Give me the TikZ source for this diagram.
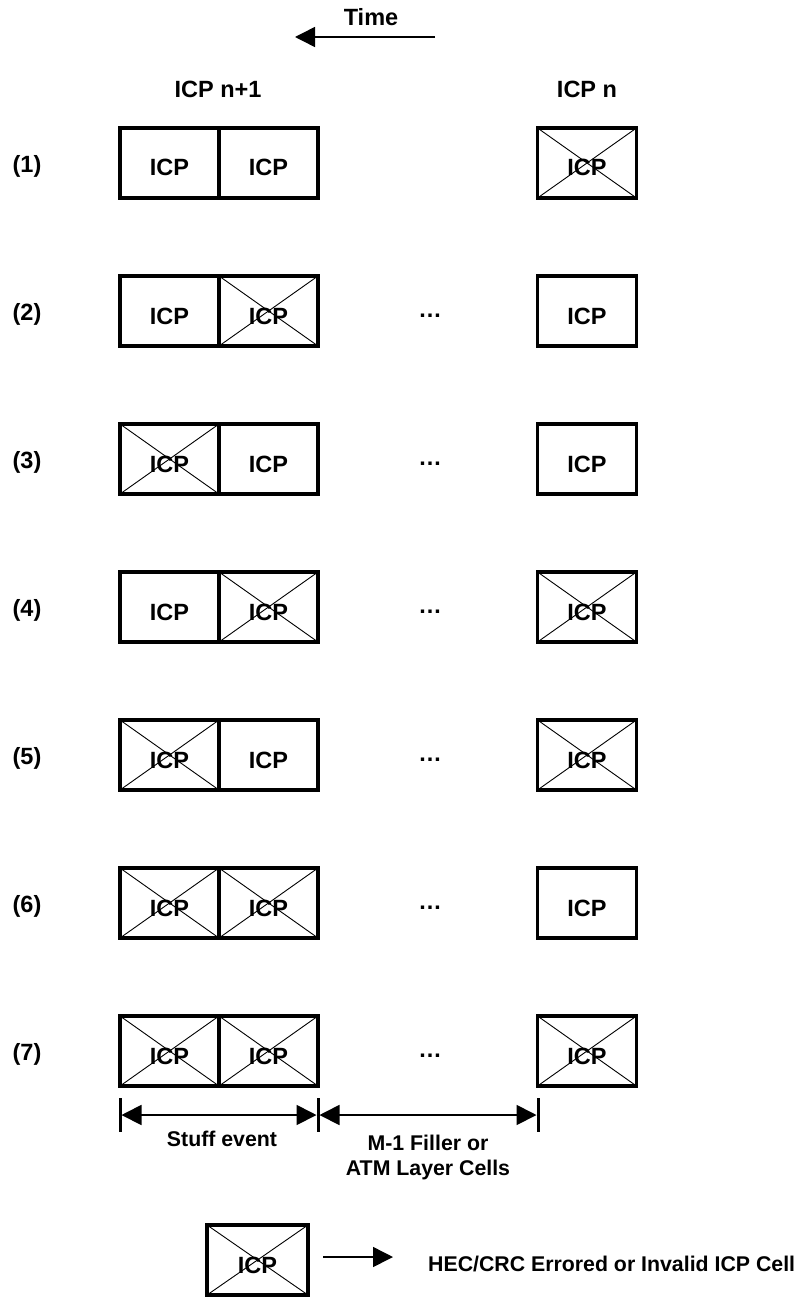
\documentclass[tikz,border=0pt]{standalone}
\usepackage{fontspec}
\setmainfont{Liberation Sans}
\usetikzlibrary{arrows.meta}
\begin{document}
\begin{tikzpicture}[x=1pt,y=-1pt,
  every node/.style={font=\bfseries\fontsize{21.3}{25}\selectfont},
  big/.style={font=\bfseries\fontsize{23.5}{27}\selectfont},
  cell/.style={big, draw, line width=3.5pt, minimum width=99pt, minimum height=70pt,
    inner sep=0pt, text height=26pt, text depth=0pt},
  xcell/.style={cell, path picture={
    \draw[line width=0.9pt]
      (path picture bounding box.north west) -- (path picture bounding box.south east)
      (path picture bounding box.north east) -- (path picture bounding box.south west);}},
  tip/.style={-{Triangle[length=20pt,width=20pt]}},
  dimline/.style={line width=1.8pt, {Triangle[length=20pt,width=20pt]}-{Triangle[length=20pt,width=20pt]}},
  tick/.style={line width=3pt},
  rowlabel/.style={big},
  dots/.style={big},
]
\useasboundingbox (0,0) rectangle (799,1297);

% time arrow
\node[big] (time) at (371,17) {Time};
\coordinate (ts) at (435,37);
\coordinate (te) at (295,37);
\draw[line width=1.5pt, tip] (ts) -- (te);

% column headers
\node[big] (hn1) at (218,89) {ICP n+1};
\node[big] (hn) at (587,89) {ICP n};

% row 1
\node[rowlabel] (r1) at (27,166) {(1)};
\node[cell]  (c1a) at (169.5,163) {ICP};
\node[cell]  (c1b) at (268.5,163) {ICP};
\node[xcell] (c1c) at (587,163) {ICP};
% row 2
\node[rowlabel] (r2) at (27,314) {(2)};
\node[cell]  (c2a) at (169.5,311) {ICP};
\node[xcell] (c2b) at (268.5,311) {ICP};
\node[dots] (d2) at (430,316) {…};
\node[cell]  (c2c) at (587,311) {ICP};
% row 3
\node[rowlabel] (r3) at (27,462) {(3)};
\node[xcell] (c3a) at (169.5,459) {ICP};
\node[cell]  (c3b) at (268.5,459) {ICP};
\node[dots] (d3) at (430,464) {…};
\node[cell]  (c3c) at (587,459) {ICP};
% row 4
\node[rowlabel] (r4) at (27,610) {(4)};
\node[cell]  (c4a) at (169.5,607) {ICP};
\node[xcell] (c4b) at (268.5,607) {ICP};
\node[dots] (d4) at (430,612) {…};
\node[xcell] (c4c) at (587,607) {ICP};
% row 5
\node[rowlabel] (r5) at (27,758) {(5)};
\node[xcell] (c5a) at (169.5,755) {ICP};
\node[cell]  (c5b) at (268.5,755) {ICP};
\node[dots] (d5) at (430,760) {…};
\node[xcell] (c5c) at (587,755) {ICP};
% row 6
\node[rowlabel] (r6) at (27,906) {(6)};
\node[xcell] (c6a) at (169.5,903) {ICP};
\node[xcell] (c6b) at (268.5,903) {ICP};
\node[dots] (d6) at (430,908) {…};
\node[cell]  (c6c) at (587,903) {ICP};
% row 7
\node[rowlabel] (r7) at (27,1054) {(7)};
\node[xcell] (c7a) at (169.5,1051) {ICP};
\node[xcell] (c7b) at (268.5,1051) {ICP};
\node[dots] (d7) at (430,1056) {…};
\node[xcell] (c7c) at (587,1051) {ICP};

% dimension lines
\coordinate (k1t) at (120,1098); \coordinate (k1b) at (120,1132);
\coordinate (k2t) at (318,1098); \coordinate (k2b) at (318,1132);
\coordinate (k3t) at (538,1098); \coordinate (k3b) at (538,1132);
\draw[tick] (k1t) -- (k1b);
\draw[tick] (k2t) -- (k2b);
\draw[tick] (k3t) -- (k3b);
\coordinate (a1) at (121.5,1115); \coordinate (a2) at (316.5,1115);
\coordinate (a3) at (319.5,1115); \coordinate (a4) at (536.5,1115);
\draw[dimline] (a1) -- (a2);
\draw[dimline] (a3) -- (a4);
\node (stuff) at (222,1139) {Stuff event};
\node[align=center] (filler) at (428,1157) {M-1 Filler or\\ATM Layer Cells};

% legend
\node[xcell, minimum width=101pt] (leg) at (257.5,1260) {ICP};
\coordinate (la) at (323,1257);
\coordinate (lb) at (393,1257);
\draw[line width=1.5pt, tip] (la) -- (lb);
\node[anchor=west, inner sep=0pt] (legtext) at (428,1264) {HEC/CRC Errored or Invalid ICP Cell};
\end{tikzpicture}
\end{document}
